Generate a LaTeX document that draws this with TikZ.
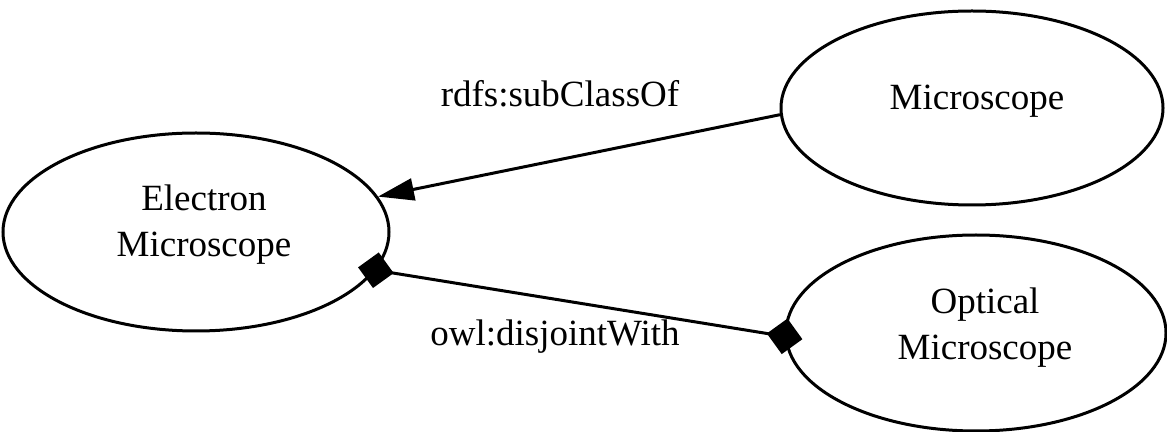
\documentclass[tikz,border=0pt]{standalone}
\usepackage{fontspec}
\setmainfont{Liberation Serif}
\usetikzlibrary{shapes.geometric,arrows.meta}
\begin{document}
\begin{tikzpicture}[x=0.5pt,y=-0.5pt,
  cls/.style={ellipse,draw,line width=1.5pt,inner sep=0pt},
  clstext/.style={inner sep=0pt,align=center,font=\fontsize{18.5}{23}\selectfont},
  lbl/.style={inner sep=0pt,anchor=base,font=\fontsize{18.5}{23}\selectfont},
  edgeline/.style={line width=1.5pt},
  subcls/.style={edgeline,-{Triangle[length=18pt,width=11pt]}},
  disj/.style={edgeline,{Diamond[length=18pt,width=18pt]}-{Diamond[length=18pt,width=18pt]},
    shorten <=-9pt,shorten >=-9pt}]
\useasboundingbox (0,0) rectangle (1167,432);
% classes
\node[cls,minimum width=193pt,minimum height=99pt] (em) at (196,232) {};
\node[cls,minimum width=191pt,minimum height=97pt] (ms) at (972,108) {};
\node[cls,minimum width=190pt,minimum height=98pt] (om) at (976,333) {};
\node[clstext] (emt) at ([shift={(4pt,3.5pt)}]em.center) {Electron\\Microscope};
\node[clstext] (mst) at ([shift={(2.5pt,3.5pt)}]ms.center) {Microscope};
\node[clstext] (omt) at ([shift={(4.5pt,2.5pt)}]om.center) {Optical\\Microscope};
% relations
\draw[subcls] (ms.182) -- (em.11);
\draw[disj] (em.-12) -- (om.181);
% relation labels
\node[lbl] (l1) at (560,107) {rdfs:subClassOf};
\node[lbl] (l2) at (555,346) {owl:disjointWith};
\end{tikzpicture}
\end{document}
